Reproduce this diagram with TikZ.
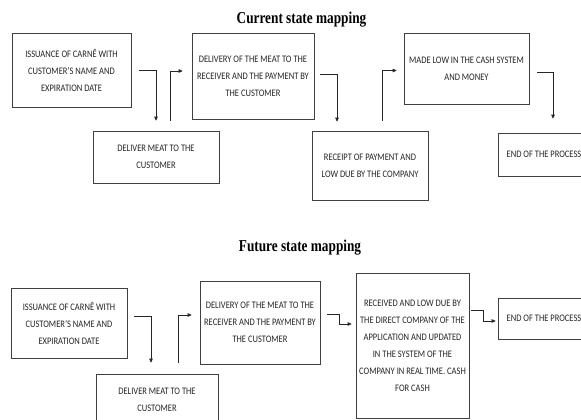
\documentclass[tikz,border=0pt]{standalone}
\usepackage{fontspec}
\setmainfont{Carlito}[FakeStretch=0.85]
\newfontfamily\titlefont{Liberation Serif}[FakeStretch=0.8]
\usetikzlibrary{arrows.meta}
\begin{document}
\begin{tikzpicture}[x=1pt,y=-1pt,
  box/.style={draw=black!75, line width=0.7pt, rectangle, inner sep=0pt, align=center,
    font=\fontsize{10}{17}\selectfont, text=black!85},
  conn/.style={draw=black!85, line width=0.7pt, -{Triangle[length=4pt,width=3.6pt]}},
  ttl/.style={font=\titlefont\bfseries\fontsize{16.6}{18}\selectfont, anchor=base, inner sep=0pt}]
\useasboundingbox (0,0) rectangle (581,420);
\fill[white] (0,0) rectangle (581,420);
\clip (0,0) rectangle (581,420);

% ---------- current state ----------
\node[ttl] (t1) at (301.5,24) {Current state mapping};
\node[box, minimum width=119pt, minimum height=74pt] (A) at (71.5,70)
  {ISSUANCE OF CARNÊ WITH\\CUSTOMER'S NAME AND\\EXPIRATION DATE};
\node[box, minimum width=126pt, minimum height=52pt] (B) at (156,157)
  {DELIVER MEAT TO THE\\CUSTOMER};
\node[box, minimum width=122pt, minimum height=86pt] (C) at (253,76)
  {DELIVERY OF THE MEAT TO THE\\RECEIVER AND THE PAYMENT BY\\THE CUSTOMER};
\node[box, minimum width=116pt, minimum height=69pt] (D) at (370,165.5)
  {RECEIPT OF PAYMENT AND\\LOW DUE BY THE COMPANY};
\node[box, minimum width=125pt, minimum height=71pt] (E) at (466.5,68.5)
  {MADE LOW IN THE CASH SYSTEM\\AND MONEY};
\node[box, minimum width=92pt, minimum height=43pt] (F) at (544,154.5)
  {END OF THE PROCESS};

\draw[conn] ([xshift=8pt]A.east) -| ([yshift=10pt]B.north);
\draw[conn] ([xshift=14pt,yshift=10pt]B.north) |- ([xshift=-9pt,yshift=5pt]C.west);
\draw[conn] ([xshift=6pt,yshift=2pt]C.east) -| ([xshift=-33pt,yshift=9pt]D.north);
\draw[conn] ([xshift=12pt,yshift=10pt]D.north) |- ([xshift=-7pt,yshift=-2pt]E.west);
\draw[conn] ([xshift=8pt,yshift=-3.5pt]E.east) -| ([xshift=9pt,yshift=14pt]F.north);

% ---------- future state ----------
\node[ttl] (t2) at (300,251) {Future state mapping};
\node[box, minimum width=116pt, minimum height=70pt] (A2) at (69,323)
  {ISSUANCE OF CARNÊ WITH\\CUSTOMER'S NAME AND\\EXPIRATION DATE};
\node[box, minimum width=122pt, minimum height=52pt] (B2) at (157,400)
  {DELIVER MEAT TO THE\\CUSTOMER};
\node[box, minimum width=120pt, minimum height=83pt] (C2) at (260,322.5)
  {DELIVERY OF THE MEAT TO THE\\RECEIVER AND THE PAYMENT BY\\THE CUSTOMER};
\node[box, minimum width=113pt, minimum height=145pt] (G) at (412.5,345.5)
  {RECEIVED AND LOW DUE BY\\THE DIRECT COMPANY OF THE\\APPLICATION AND UPDATED\\IN THE SYSTEM OF THE\\COMPANY IN REAL TIME. CASH\\FOR CASH};
\node[box, minimum width=92pt, minimum height=41pt] (H) at (544,318.5)
  {END OF THE PROCESS};

\draw[conn] ([xshift=7pt,yshift=7pt]A2.east) -| ([xshift=-6pt,yshift=11pt]B2.north);
\draw[conn] ([xshift=21pt,yshift=11pt]B2.north) |- ([xshift=-8pt,yshift=7.5pt]C2.west);
\draw[conn] ([xshift=7pt,yshift=8.5pt]C2.east) -- ++(12,0) |- ([xshift=-4pt,yshift=21.5pt]G.west);
\draw[conn] ([xshift=2pt,yshift=35.5pt]G.east) -- ++(12,0) |- ([xshift=-2pt,yshift=-2.5pt]H.west);
\end{tikzpicture}
\end{document}
